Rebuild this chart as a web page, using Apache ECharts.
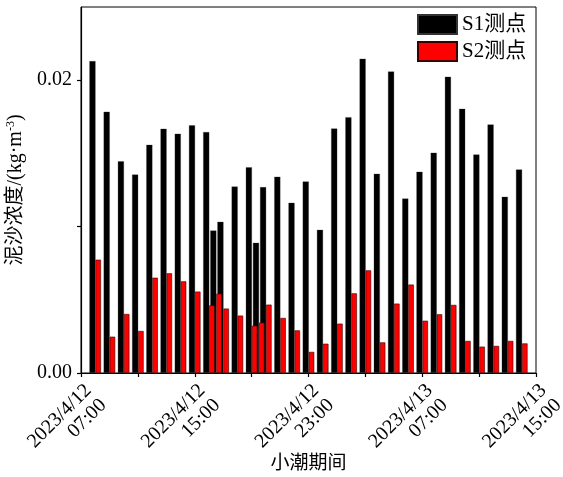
<!DOCTYPE html>
<html>
<head>
<meta charset="utf-8">
<script src="https://cdn.jsdelivr.net/npm/echarts@6/dist/echarts.min.js"></script>
<style>html,body{margin:0;padding:0;background:#fff;}#c{width:563px;height:477px;}</style>
</head>
<body>
<div id="c"></div>
<script>
// sampling times
var times = [
  '2023-04-12T08:00','2023-04-12T09:00','2023-04-12T10:00','2023-04-12T11:00',
  '2023-04-12T12:00','2023-04-12T13:00','2023-04-12T14:00','2023-04-12T15:00',
  '2023-04-12T16:00','2023-04-12T16:30','2023-04-12T17:00','2023-04-12T18:00',
  '2023-04-12T19:00','2023-04-12T19:30','2023-04-12T20:00','2023-04-12T21:00',
  '2023-04-12T22:00','2023-04-12T23:00','2023-04-13T00:00','2023-04-13T01:00',
  '2023-04-13T02:00','2023-04-13T03:00','2023-04-13T04:00','2023-04-13T05:00',
  '2023-04-13T06:00','2023-04-13T07:00','2023-04-13T08:00','2023-04-13T09:00',
  '2023-04-13T10:00','2023-04-13T11:00','2023-04-13T12:00','2023-04-13T13:00',
  '2023-04-13T14:00'
];
// S1 measuring point (kg/m3)
var s1 = [
  0.0213,0.01784,0.01446,0.01355,0.01558,0.01668,0.01634,0.01692,
  0.01645,0.00973,0.01032,0.01273,0.01405,0.00889,0.01269,0.0134,
  0.01162,0.01308,0.00977,0.0167,0.01747,0.02146,0.0136,0.02059,
  0.01191,0.01374,0.01504,0.02023,0.01804,0.01492,0.01697,0.01203,
  0.0139
];
// S2 measuring point (kg/m3)
var s2 = [
  0.00774,0.00248,0.00403,0.00287,0.00651,0.00681,0.00626,0.00556,
  0.00462,0.00542,0.0044,0.00392,0.00323,0.00344,0.00467,0.00376,
  0.00291,0.00144,0.002,0.00337,0.00544,0.00701,0.00209,0.00474,
  0.00604,0.00357,0.00401,0.00465,0.00219,0.0018,0.00185,0.00219,
  0.00202
];
var seriesNames = ['S1测点', 'S2测点'];
var xRange = ['2023-04-12T07:00', '2023-04-13T15:00'];
var xLabelTimes = ['2023-04-12T07:00','2023-04-12T15:00','2023-04-12T23:00','2023-04-13T07:00','2023-04-13T15:00'];
var xTickTimes = ['2023-04-12T07:00','2023-04-12T11:00','2023-04-12T15:00','2023-04-12T19:00','2023-04-12T23:00',
                  '2023-04-13T03:00','2023-04-13T07:00','2023-04-13T11:00','2023-04-13T15:00'];
var yLabelValues = [0, 0.02];
var yTickValues = [0, 0.01, 0.02];
var yMax = 0.025;

function ts(s) { return +new Date(s + ':00'); }
var serif = "'Liberation Serif', 'Times New Roman', 'Noto Sans CJK SC', serif";

var chart = echarts.init(document.getElementById('c'));
chart.setOption({
  animation: false,
  backgroundColor: '#fff',
  textStyle: { fontFamily: serif, color: '#000' },
  grid: { left: 81, right: 27, top: 7, bottom: 104, show: true, borderColor: '#000', borderWidth: 1,
          backgroundColor: 'transparent', containLabel: false, outerBoundsMode: 'none' },
  legend: {
    orient: 'vertical', left: 417, top: 14, padding: 0, itemGap: 6,
    itemWidth: 39, itemHeight: 19, icon: 'rect',
    data: seriesNames,
    textStyle: { fontFamily: serif, fontSize: 21, color: '#000' }
  },
  xAxis: {
    type: 'value',
    min: ts(xRange[0]), max: ts(xRange[1]),
    name: '小潮期间', nameLocation: 'middle', nameGap: 82, nameMoveOverlap: false,
    nameTextStyle: { fontFamily: serif, fontSize: 19, color: '#000' },
    axisLine: { show: true, onZero: false, lineStyle: { color: '#000', width: 1.2 } },
    axisTick: { show: true, length: 4, lineStyle: { color: '#000', width: 1.2 }, customValues: xTickTimes.map(ts) },
    axisLabel: {
      show: true, rotate: 45, align: 'right', verticalAlign: 'top', margin: 7,
      fontFamily: serif, fontSize: 20, lineHeight: 21, color: '#000',
      customValues: xLabelTimes.map(ts),
      formatter: function (v) { return echarts.time.format(v, '{yyyy}/{M}/{d}\n{HH}:{mm}', false); }
    },
    splitLine: { show: false }
  },
  yAxis: {
    type: 'value', min: 0, max: yMax,
    name: '{t|泥沙浓度/(kg·m}{s|-3}{t|)}', nameLocation: 'middle', nameGap: 50, nameRotate: 90,
    nameTextStyle: {
      color: '#000',
      rich: {
        t: { fontFamily: serif, fontSize: 20, lineHeight: 22, color: '#000' },
        s: { fontFamily: serif, fontSize: 12, lineHeight: 22, verticalAlign: 'top', color: '#000' }
      }
    },
    axisLine: { show: true, lineStyle: { color: '#000', width: 1.2 } },
    axisTick: { show: true, length: 4, lineStyle: { color: '#000', width: 1.2 }, customValues: yTickValues },
    axisLabel: {
      show: true, margin: 9, fontFamily: serif, fontSize: 20, color: '#000',
      customValues: yLabelValues,
      formatter: function (v) { return v.toFixed(2); }
    },
    splitLine: { show: false }
  },
  series: [
    {
      name: seriesNames[0], type: 'bar', barWidth: 6, barGap: '0%',
      itemStyle: { color: '#000', borderColor: '#333', borderWidth: 0.3 },
      data: times.map(function (t, i) { return [ts(t), s1[i]]; })
    },
    {
      name: seriesNames[1], type: 'bar', barWidth: 5.5, barGap: '0%',
      itemStyle: { color: '#ff0000', borderColor: '#3a0000', borderWidth: 0.6 },
      data: times.map(function (t, i) { return [ts(t), s2[i]]; })
    }
  ]
});
</script>
</body>
</html>
